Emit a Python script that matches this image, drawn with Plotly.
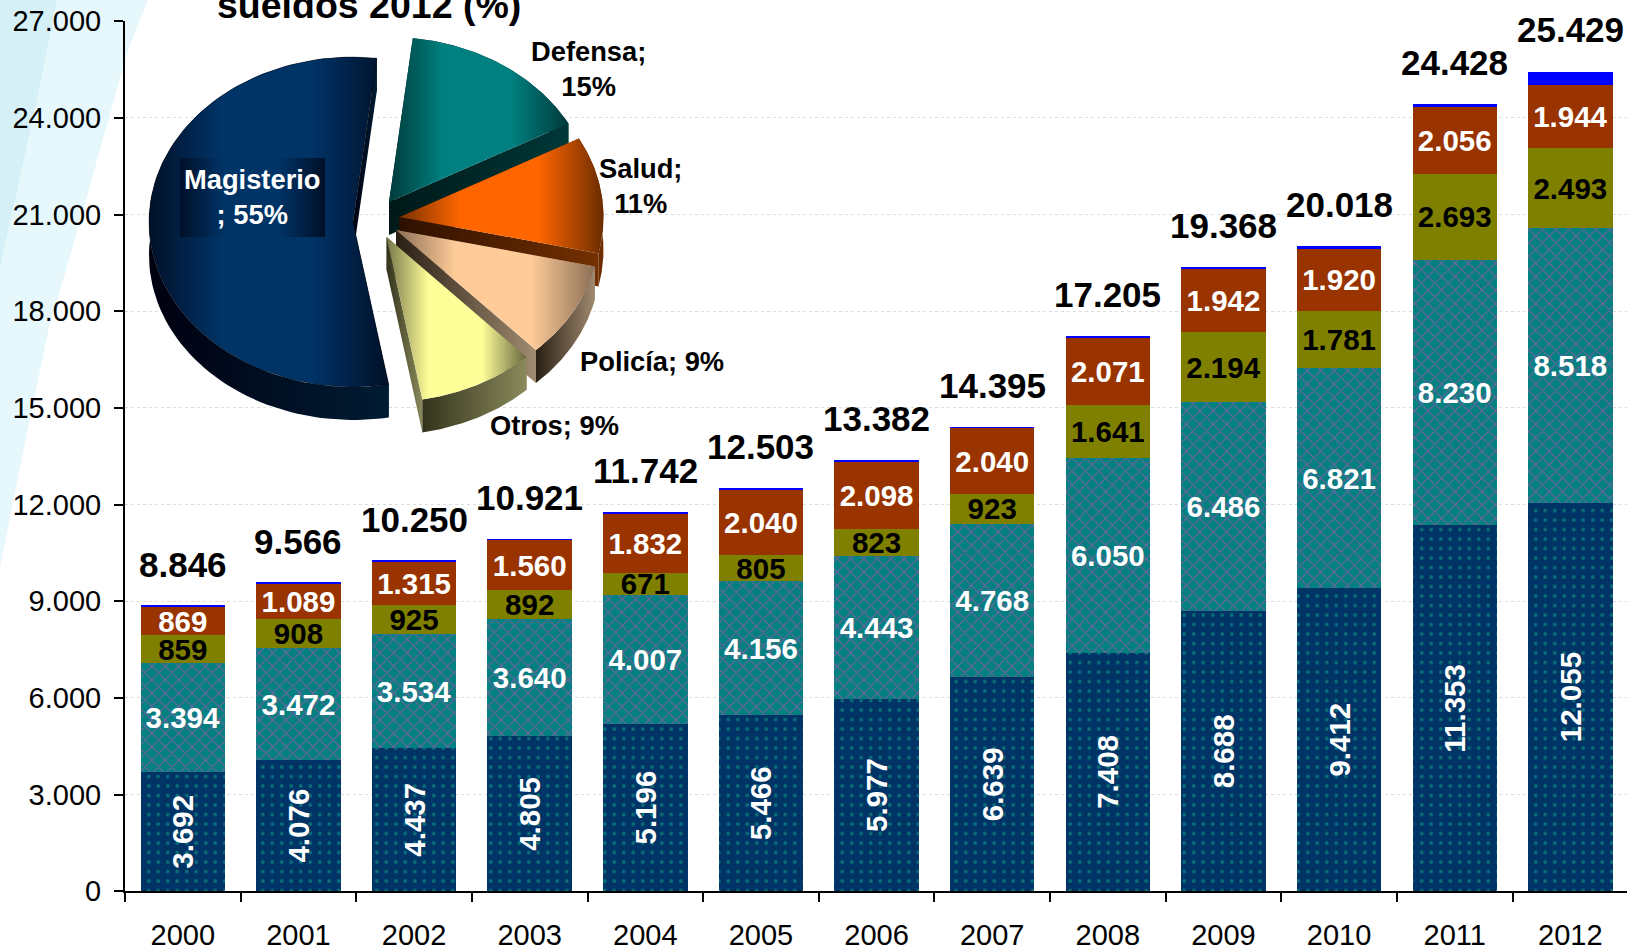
import math
import plotly.graph_objects as go

years = ["2000","2001","2002","2003","2004","2005","2006","2007","2008","2009","2010","2011","2012"]
magisterio = [3692,4076,4437,4805,5196,5466,5977,6639,7408,8688,9412,11353,12055]
salud = [3394,3472,3534,3640,4007,4156,4443,4768,6050,6486,6821,8230,8518]
policia = [859,908,925,892,671,805,823,923,1641,2194,1781,2693,2493]
defensa = [869,1089,1315,1560,1832,2040,2098,2040,2071,1942,1920,2056,1944]
otros = [32,21,39,24,36,36,41,25,35,58,84,96,419]
totales = [8846,9566,10250,10921,11742,12503,13382,14395,17205,19368,20018,24428,25429]

pie_names = ["Defensa","Salud","Policía","Otros","Magisterio"]
pie_shares = [15.2,11.4,9.4,9.2,54.5]

W, H = 1627, 949
FONT = "Liberation Sans"

fig = go.Figure()

# ---------- stacked bars ----------
def bar(vals, bg, fg=None, shape="", size=9, solidity=0.3, color="white", angle=0, text=True, name=""):
    pat = dict(shape=shape, bgcolor=bg, fgcolor=fg, size=size, solidity=solidity, fillmode="replace") if shape else None
    fig.add_trace(go.Bar(
        x=years, y=vals, name=name, width=0.73,
        marker=dict(color=bg, line=dict(width=0), pattern=pat),
        texttemplate="%{y:,d}" if text else None,
        textposition="inside" if text else "none",
        insidetextanchor="middle", constraintext="none", textangle=angle,
        insidetextfont=dict(family=FONT, size=29.5, color=color, weight="bold"),
        hoverinfo="skip", xaxis="x", yaxis="y"))

bar(magisterio, "#003366", "#0a7078", ".", 9.5, 0.12, "white", -90, name="Magisterio")
bar(salud, "#008080", "#666699", "x", 9.5, 0.25, "white", 0, name="Salud")
bar(policia, "#808000", color="black", name="Policía")
bar(defensa, "#993300", color="white", name="Defensa")
bar(otros, "#0000FF", text=False, name="Otros")

# ---------- exploded 3D pie, on full-figure pixel axes ----------
A, B, DEPTH = 204, 165, 33
START = 6.7
apex = {"Defensa":(389,202),"Salud":(399.5,217),"Policía":(396,230),"Otros":(386.6,237),"Magisterio":(353,222)}
top_cols = {
    "Defensa":["#003a3a","#008080","#008080","#003a3a"],
    "Salud":["#7a3000","#ff6600","#ff6600","#6b2c00"],
    "Policía":["#8a6e55","#ffcc99","#ffcc99","#8a6e55"],
    "Otros":["#77774a","#ffff99","#ffff99","#66663f"],
    "Magisterio":["#001028","#003366","#003366","#001028"],
}
side_cols = {
    "Defensa":["#001818","#003838"],
    "Salud":["#2e1000","#743000"],
    "Policía":["#2a1f14","#a08a70"],
    "Otros":["#33331c","#8a8a5c"],
    "Magisterio":["#000010","#001c33"],
}
def scale(cols):
    n = len(cols) - 1
    pos = [0, 0.3, 0.68, 1] if n == 3 else [i / n for i in range(n + 1)]
    return [[p, c] for p, c in zip(pos, cols)]

def poly(xs, ys, cols, line=None):
    fig.add_trace(go.Scatter(
        x=xs + xs[:1], y=ys + ys[:1], mode="lines", fill="toself",
        line=dict(width=0.6 if line else 0, color=line or "rgba(0,0,0,0)"),
        fillgradient=dict(type="horizontal", colorscale=scale(cols)),
        hoverinfo="skip", showlegend=False, xaxis="x2", yaxis="y2"))

total = sum(pie_shares)
ang = START
for name, share in zip(pie_names, pie_shares):
    span = 360 * share / total
    cx, cy = apex[name]
    n = 90
    th = [math.radians(ang + span * i / n) for i in range(n + 1)]
    xs = [cx + A * math.sin(t) for t in th]
    ys = [cy - B * math.cos(t) for t in th]
    # radial faces
    poly([cx, xs[0], xs[0], cx], [cy, ys[0], ys[0] + DEPTH, cy + DEPTH], side_cols[name])
    poly([cx, xs[-1], xs[-1], cx], [cy, ys[-1], ys[-1] + DEPTH, cy + DEPTH], side_cols[name])
    # outer wall
    poly(xs + xs[::-1], ys + [y + DEPTH for y in ys[::-1]], side_cols[name])
    # top
    poly([cx] + xs, [cy] + ys, top_cols[name], line="rgba(0,0,0,0.6)" if name == "Magisterio" else None)
    ang += span

# Magisterio label plate
poly([180, 325, 325, 180], [158, 158, 237, 237], ["#001028", "#003366", "#003366", "#001028"])

# ---------- layout ----------
def paper_path(points):
    return "M " + " L ".join(f"{x / W:.5f} {1 - y / H:.5f}" for x, y in points) + " Z"
swoosh_light = paper_path([(148,0),(128,50),(67,267),(50,323),(27,433),(0,567),(0,0)])
swoosh_dark = paper_path([(57,0),(37,100),(0,267),(0,0)])

annots = []
for i, t in enumerate(totales):
    annots.append(dict(x=i, y=t, xref="x", yref="y", text=f"{t:,}".replace(",", "."), showarrow=False,
                       yshift=42, yanchor="middle", xanchor="center",
                       font=dict(family=FONT, size=35, color="black", weight="bold")))
def lab(x, y, text, color="black", size=27.3):
    annots.append(dict(x=x, y=y, xref="x2", yref="y2", text=text, showarrow=False, align="center",
                       xanchor="center", yanchor="middle",
                       font=dict(family=FONT, size=size, color=color, weight="bold")))
lab(369, 5, "sueldos 2012 (%)", size=37.5)
lab(252, 197, "Magisterio<br>; 55%", "white")
lab(588, 69, "Defensa;<br>15%")
lab(640, 186, "Salud;<br>11%")
lab(652, 361, "Policía; 9%")
lab(554, 425, "Otros; 9%")

fig.update_layout(
    width=W, height=H, autosize=False, margin=dict(l=0, r=0, t=0, b=0, pad=0, autoexpand=False),
    paper_bgcolor="white", plot_bgcolor="rgba(0,0,0,0)", barmode="stack", bargap=0.27,
    separators=",.", showlegend=False, annotations=annots,
    font=dict(family=FONT, color="black"),
    shapes=[
        dict(type="path", path=swoosh_light, xref="paper", yref="paper", fillcolor="#e6f8fc", line=dict(width=0), layer="below"),
        dict(type="path", path=swoosh_dark, xref="paper", yref="paper", fillcolor="#d5f0f6", line=dict(width=0), layer="below"),
    ],
    xaxis=dict(domain=[125 / W, 1], range=[-0.5, 12.49], type="category", anchor="y",
               tickson="boundaries", ticks="outside", ticklen=9, tickwidth=2, tickcolor="black",
               showline=True, linecolor="black", linewidth=2, showgrid=False,
               tickfont=dict(family=FONT, size=29, color="black"), ticklabelstandoff=17, zeroline=False),
    yaxis=dict(domain=[(H - 891.3) / H, (H - 21.3) / H], range=[0, 27000], dtick=3000, tick0=0, anchor="x",
               tickformat=",d", ticks="outside", ticklen=9, tickwidth=2, tickcolor="black",
               showline=True, linecolor="black", linewidth=2, zeroline=False,
               gridcolor="#dcdcdc", griddash="dot", gridwidth=1,
               tickfont=dict(family=FONT, size=29, color="black"), ticklabelstandoff=7),
    xaxis2=dict(domain=[0, 1], range=[0, W], visible=False, anchor="y2", fixedrange=True),
    yaxis2=dict(domain=[0, 1], range=[H, 0], visible=False, anchor="x2", fixedrange=True),
)

fig.write_html("out.html", config=dict(displayModeBar=False),
               post_script="document.body.style.margin='0';document.body.style.overflow='hidden';")
